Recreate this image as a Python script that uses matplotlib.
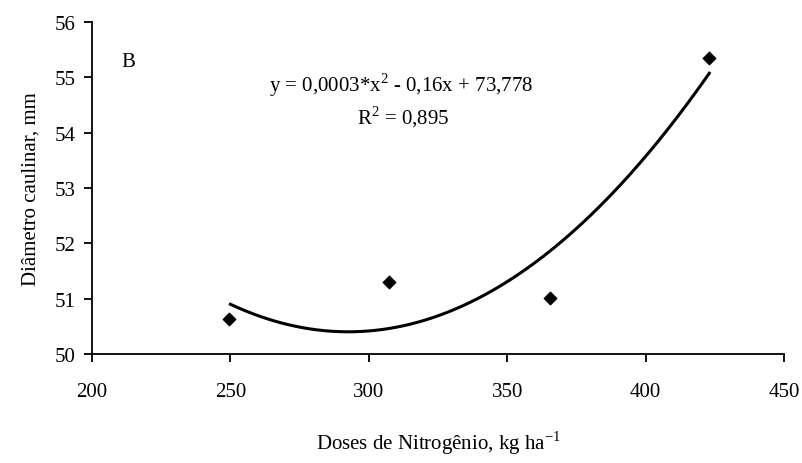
import numpy as np
import matplotlib
matplotlib.use("Agg")
import matplotlib.pyplot as plt

doses = [249.5, 307.3, 365.5, 422.9]
diametro = [50.63, 51.30, 51.02, 55.35]
x_ticks = [200, 250, 300, 350, 400, 450]
y_ticks = [50, 51, 52, 53, 54, 55, 56]
equation = "y = 0,0003*x$^{2}$ - 0,16x + 73,778"
r2_text = "R$^{2}$ = 0,895"
panel = "B"

plt.rcParams['font.family'] = ['Liberation Serif', 'DejaVu Serif']
plt.rcParams['mathtext.fontset'] = 'custom'
plt.rcParams['mathtext.rm'] = 'Liberation Serif'

fig = plt.figure(figsize=(8.02, 4.64), dpi=100)
ax = fig.add_axes([92/802, 1-355/464, (784-92)/802, (355-23)/464])

coef = np.polyfit(doses, diametro, 2)
xs = np.linspace(250, 423, 200)
ax.plot(xs, np.polyval(coef, xs), color='black', lw=2.2)
ax.scatter(doses, diametro, marker='D', s=40, color='black', zorder=3)

ax.set_xlim(200, 450)
ax.set_ylim(50, 56)
ax.set_xticks(x_ticks)
ax.set_yticks(y_ticks)
ax.tick_params(labelsize=15, length=6, width=1.3, direction='out', pad=14)
ax.tick_params(axis='y', pad=6)
for s in ['top', 'right']:
    ax.spines[s].set_visible(False)
for s in ['left', 'bottom']:
    ax.spines[s].set_linewidth(1.3)

ax.set_xlabel("Doses de Nitrogênio, kg ha$^{-1}$", fontsize=15, labelpad=20)
ax.set_ylabel("Diâmetro caulinar, mm", fontsize=15, labelpad=10)

ax.text(0.052, 0.88, panel, transform=ax.transAxes, fontsize=15, ha='center', va='center')
ax.text(311.5, 54.88, equation, fontsize=15, ha='center', va='center')
ax.text(312.6, 54.29, r2_text, fontsize=15, ha='center', va='center')

fig.savefig("out.png", dpi=100)
